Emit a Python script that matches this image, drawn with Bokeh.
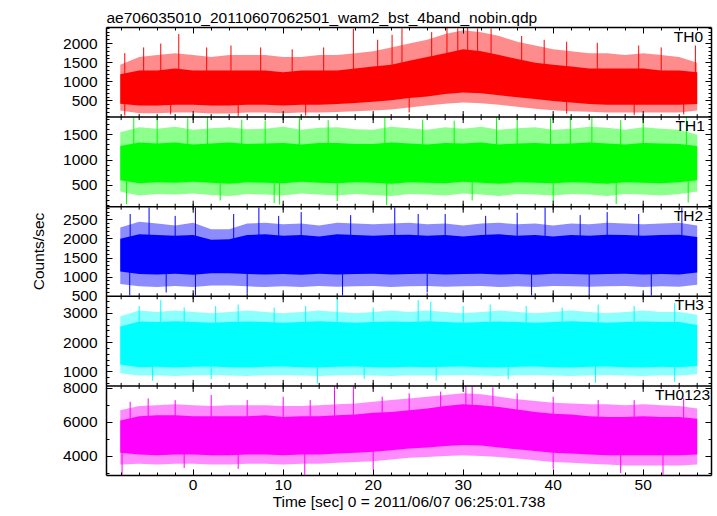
import numpy as np
from bokeh.plotting import figure
from bokeh.models import LinearAxis, SingleIntervalTicker, FixedTicker, Range1d, Label, Span
from bokeh.embed import file_html
from bokeh.resources import INLINE

FONT = "Liberation Sans"
FS = "15.5px"

TITLE = "ae706035010_20110607062501_wam2_bst_4band_nobin.qdp"
XLABEL = "Time [sec] 0 = 2011/06/07 06:25:01.738"
YLABEL = "Counts/sec"

# time grid (sec) for the envelopes
T = [-8.1, -6, -4, -2, 0, 2, 4, 6, 8, 10, 12, 14, 16, 18, 20, 22, 24, 26, 28, 30,
     32, 34, 36, 38, 40, 42, 44, 46, 48, 50, 52, 54, 56]

# TH0 : spike envelope (hi/lo) and dense core (chi/clo)
TH0_hi = [1450, 1650, 1700, 1750, 1700, 1650, 1700, 1700, 1700, 1650, 1650, 1700, 1700, 1750, 1800, 1900, 2000,
          2100, 2250, 2350, 2300, 2200, 2050, 1950, 1850, 1800, 1750, 1750, 1700, 1750, 1700, 1650, 1500]
TH0_chi = [1200, 1300, 1300, 1350, 1300, 1300, 1300, 1300, 1300, 1250, 1300, 1300, 1300, 1350, 1400, 1450, 1550,
           1650, 1750, 1850, 1800, 1700, 1600, 1500, 1450, 1400, 1350, 1350, 1350, 1350, 1300, 1300, 1250]
TH0_clo = [430, 380, 380, 400, 400, 380, 380, 400, 400, 380, 400, 400, 420, 450, 480, 520, 580,
           620, 680, 720, 700, 650, 600, 550, 500, 460, 420, 400, 400, 400, 400, 400, 420]
TH0_lo = [250, 180, 180, 200, 200, 170, 170, 200, 200, 180, 200, 200, 210, 230, 250, 280, 330,
          380, 430, 460, 440, 400, 350, 300, 260, 230, 220, 200, 200, 200, 200, 200, 250]
TH0_up_t = [-7.6, -5.5, -3.6, -1.6, 1.5, 4.2, 7.5, 11, 14.5, 17.8, 20.5, 22.1, 23.2, 26.5, 28.2, 29.4, 30.5,
            31.6, 33.1, 36.5, 39.0, 41.5, 44.9, 49.5, 52.0, 55.8]
TH0_up_v = [1750, 1900, 2000, 2250, 1900, 1950, 1900, 1850, 1900, 2390, 2100, 2230, 2400, 2300, 2420, 2400, 2420,
            2400, 2400, 2200, 2100, 2050, 2020, 1950, 1900, 1950]
TH0_dn_t = [-7.6, -2.5, 5, 12.5, 24.0, 41.5, 49, 54.5]
TH0_dn_v = [120, 150, 110, 120, 200, 170, 130, 150]

# TH1
TH1_hi = [1550, 1650, 1620, 1660, 1600, 1630, 1650, 1610, 1620, 1660, 1600, 1640, 1650, 1610, 1600, 1660, 1630,
          1600, 1650, 1620, 1660, 1600, 1630, 1650, 1600, 1620, 1660, 1640, 1600, 1650, 1620, 1600, 1500]
TH1_chi = [1280, 1350, 1330, 1350, 1310, 1330, 1350, 1320, 1330, 1340, 1310, 1340, 1340, 1320, 1320, 1350, 1330,
           1310, 1340, 1330, 1350, 1310, 1330, 1340, 1320, 1330, 1350, 1330, 1310, 1340, 1330, 1320, 1280]
TH1_clo = [600, 540, 560, 550, 570, 550, 530, 560, 550, 540, 570, 550, 540, 560, 550, 530, 560,
           550, 540, 570, 550, 530, 560, 550, 540, 560, 550, 530, 560, 550, 540, 560, 600]
TH1_lo = [380, 300, 330, 320, 340, 310, 290, 330, 320, 300, 340, 320, 300, 330, 310, 290, 330,
          320, 300, 340, 320, 290, 330, 320, 300, 330, 320, 290, 330, 320, 300, 330, 380]
TH1_up_t = [-6.6, -4.0, -0.6, 1.6, 5.4, 8.0, 11.8, 15.0, 21.3, 25.5, 29.0, 33.7, 36.0, 39.7, 41.9, 44.3, 47.5,
            50.0, 54.8]
TH1_up_v = [1840, 1850, 1830, 1850, 1800, 1780, 1850, 1790, 1840, 1800, 1780, 1850, 1800, 1830, 1850, 1840, 1790,
            1800, 1850]
TH1_dn_t = [-7.4, 3.0, 9.0, 9.6, 16.0, 21.5, 31.0, 40.0, 47.0, 55.0]
TH1_dn_v = [130, 200, 150, 120, 190, 110, 200, 180, 130, 160]

# TH2
TH2_hi = [2300, 2450, 2400, 2350, 2420, 2250, 2250, 2400, 2420, 2380, 2400, 2350, 2420, 2400, 2380, 2400, 2420,
          2380, 2400, 2350, 2400, 2420, 2380, 2400, 2350, 2400, 2380, 2420, 2400, 2380, 2400, 2420, 2350]
TH2_chi = [2000, 2120, 2100, 2080, 2100, 1980, 1990, 2100, 2120, 2080, 2100, 2060, 2120, 2100, 2080, 2100, 2110,
           2080, 2100, 2060, 2100, 2120, 2080, 2100, 2060, 2100, 2080, 2110, 2100, 2080, 2100, 2110, 2050]
TH2_clo = [1150, 1080, 1070, 1090, 1060, 1100, 1100, 1080, 1070, 1080, 1060, 1090, 1070, 1080, 1090, 1070, 1080,
           1090, 1070, 1080, 1090, 1070, 1080, 1060, 1090, 1080, 1070, 1080, 1090, 1070, 1080, 1070, 1120]
TH2_lo = [820, 760, 740, 770, 740, 780, 780, 760, 740, 760, 740, 770, 750, 760, 770, 740, 760,
          770, 750, 760, 770, 740, 760, 740, 770, 760, 750, 760, 770, 740, 760, 750, 800]
TH2_up_t = [-7.0, -4.9, -2.0, 0.25, 4.5, 7.3, 9.5, 12.0, 17.5, 22.4, 25.0, 28.0, 32.5, 36.0, 39.1, 43.0, 46.0,
            49.5, 54.3]
TH2_up_v = [2650, 2820, 2600, 2820, 2650, 2820, 2600, 2700, 2620, 2820, 2650, 2650, 2600, 2680, 2820, 2620, 2700,
            2650, 2820]
TH2_dn_t = [-7.05, -3.0, 0.25, 6.0, 16.6, 26.0, 37.6, 44.0, 50.9]
TH2_dn_v = [520, 600, 520, 580, 520, 600, 520, 580, 520]

# TH3
TH3_hi = [2900, 3100, 3050, 3100, 3050, 3000, 3050, 3100, 3050, 3000, 3050, 3100, 3050, 3000, 3050, 3100, 3050,
          3100, 3050, 3000, 3050, 3100, 3050, 3000, 3050, 3100, 3050, 3000, 3050, 3100, 3050, 3050, 2950]
TH3_chi = [2550, 2720, 2700, 2730, 2700, 2680, 2700, 2720, 2700, 2680, 2700, 2730, 2700, 2680, 2700, 2720, 2700,
           2730, 2700, 2680, 2700, 2720, 2700, 2680, 2700, 2730, 2700, 2680, 2700, 2720, 2700, 2700, 2600]
TH3_clo = [1250, 1160, 1170, 1150, 1170, 1180, 1160, 1150, 1170, 1180, 1160, 1150, 1170, 1180, 1160, 1150, 1170,
           1160, 1170, 1180, 1160, 1150, 1170, 1180, 1160, 1150, 1170, 1180, 1160, 1150, 1170, 1160, 1200]
TH3_lo = [950, 870, 880, 860, 880, 890, 870, 860, 880, 890, 870, 860, 880, 890, 870, 860, 880,
          870, 880, 890, 870, 860, 880, 890, 870, 860, 880, 890, 870, 860, 880, 870, 920]
TH3_up_t = [-6.0, -3.6, -1.0, 2.5, 5.0, 9.0, 12.5, 16.0, 20.0, 25.0, 26.4, 30.0, 33.0, 37.0, 41.0, 45.0, 49.0,
            53.5]
TH3_up_v = [3250, 3450, 3200, 3250, 3300, 3200, 3250, 3500, 3200, 3450, 3400, 3250, 3300, 3250, 3200, 3300, 3250,
            3350]
TH3_dn_t = [-4.5, 2.0, 13.8, 19.0, 27.0, 35.0, 44.7, 53.5]
TH3_dn_v = [700, 750, 600, 760, 700, 740, 620, 650]

# TH0123
TH0123_hi = [6700, 6950, 7000, 7050, 7000, 6950, 7000, 7000, 7000, 6950, 6950, 7000, 7050, 7100, 7200, 7300, 7400,
             7500, 7600, 7700, 7650, 7500, 7350, 7250, 7150, 7100, 7050, 7050, 7000, 7050, 7000, 6950, 6800]
TH0123_chi = [6100, 6350, 6400, 6400, 6350, 6350, 6350, 6350, 6400, 6300, 6350, 6350, 6400, 6450, 6550, 6600, 6700,
              6800, 6950, 7050, 7000, 6900, 6750, 6600, 6500, 6450, 6350, 6300, 6300, 6350, 6300, 6300, 6200]
TH0123_clo = [4200, 4100, 4050, 4100, 4100, 4050, 4050, 4100, 4100, 4050, 4100, 4100, 4150, 4200, 4250, 4350, 4450,
              4500, 4600, 4650, 4620, 4500, 4400, 4300, 4200, 4150, 4100, 4050, 4050, 4050, 4050, 4050, 4100]
TH0123_lo = [3500, 3550, 3500, 3550, 3550, 3500, 3500, 3550, 3550, 3500, 3550, 3550, 3600, 3650, 3700, 3800, 3900,
             3950, 4000, 4050, 4000, 3950, 3850, 3750, 3650, 3600, 3550, 3500, 3450, 3450, 3450, 3450, 3500]
TH0123_up_t = [-7.0, -5.0, -2.0, 2.0, 6.0, 10.0, 13.0, 15.7, 17.8, 21.0, 24.0, 27.5, 30.3, 31.0, 33.3, 36.0, 40.0,
               45.0, 49.0, 54.5]
TH0123_up_v = [7200, 7400, 7300, 7600, 7300, 7500, 7300, 8100, 8100, 7500, 7700, 7800, 8130, 8100, 8050, 7700, 7500,
               7300, 7300, 7400]
TH0123_dn_t = [-7.9, -1.0, 5.0, 12.4, 20.0, 40.0, 47.5, 52.2]
TH0123_dn_v = [2900, 3300, 3250, 2900, 3200, 3250, 3000, 2900]

# axis limits and ticks of each panel
TH0_LIM, TH1_LIM, TH2_LIM, TH3_LIM, TH0123_LIM = (79, 2421), (78, 1850), (500, 2840), (518, 3583), (2855, 8137)
TH0_TICKS, TH0_MINOR = [500, 1000, 1500, 2000], list(range(100, 2500, 100))
TH1_TICKS, TH1_MINOR = [500, 1000, 1500], list(range(100, 1900, 100))
TH2_TICKS, TH2_MINOR = [500, 1000, 1500, 2000, 2500], list(range(500, 2900, 100))
TH3_TICKS, TH3_MINOR = [1000, 2000, 3000], list(range(600, 3600, 200))
TH0123_TICKS, TH0123_MINOR = [4000, 6000, 8000], list(range(3000, 9000, 1000))
X_MAJOR = [0, 10, 20, 30, 40, 50]
X_MINOR = list(range(-8, 58, 2))
X_RANGE = (-9.63, 57.59)

PANELS = [
    ("TH0", "#ff0000", TH0_hi, TH0_chi, TH0_clo, TH0_lo, TH0_up_t, TH0_up_v, TH0_dn_t, TH0_dn_v,
     TH0_LIM, TH0_TICKS, TH0_MINOR, 53.4),
    ("TH1", "#00ff00", TH1_hi, TH1_chi, TH1_clo, TH1_lo, TH1_up_t, TH1_up_v, TH1_dn_t, TH1_dn_v,
     TH1_LIM, TH1_TICKS, TH1_MINOR, 53.6),
    ("TH2", "#0000ff", TH2_hi, TH2_chi, TH2_clo, TH2_lo, TH2_up_t, TH2_up_v, TH2_dn_t, TH2_dn_v,
     TH2_LIM, TH2_TICKS, TH2_MINOR, 53.4),
    ("TH3", "#00ffff", TH3_hi, TH3_chi, TH3_clo, TH3_lo, TH3_up_t, TH3_up_v, TH3_dn_t, TH3_dn_v,
     TH3_LIM, TH3_TICKS, TH3_MINOR, 53.5),
    ("TH0123", "#ff00ff", TH0123_hi, TH0123_chi, TH0123_clo, TH0123_lo, TH0123_up_t, TH0123_up_v,
     TH0123_dn_t, TH0123_dn_v, TH0123_LIM, TH0123_TICKS, TH0123_MINOR, 51.3),
]
N = len(PANELS)

p = figure(frame_width=605, frame_height=448, x_range=Range1d(*X_RANGE), y_range=Range1d(0, N),
           output_backend="svg", toolbar_location=None, x_axis_location=None, y_axis_location=None,
           min_border_left=106, min_border_right=5, min_border_top=27, min_border_bottom=40,
           background_fill_color="white", border_fill_color="white", outline_line_color=None,
           title=TITLE)
p.grid.visible = False
p.title.text_font = FONT
p.title.text_font_size = FS
p.title.text_font_style = "normal"
p.title.text_color = "black"
p.title.align = "left"
p.title.standoff = 3


def style_axis(ax, labels):
    ax.axis_line_color = "black"
    ax.axis_line_width = 1.5
    ax.major_tick_in = 6
    ax.major_tick_out = 0
    ax.minor_tick_in = 3
    ax.minor_tick_out = 0
    ax.major_tick_line_color = "black"
    ax.minor_tick_line_color = "black"
    if labels:
        ax.major_label_text_font = FONT
        ax.major_label_text_font_size = FS
        ax.major_label_text_color = "black"
        ax.axis_label_text_font = FONT
        ax.axis_label_text_font_size = FS
        ax.axis_label_text_font_style = "normal"
        ax.axis_label_text_color = "black"
    else:
        ax.major_label_text_color = None
        ax.major_label_standoff = 0


# y ticks of all panels on one axis of the stacked frame
major_pos, minor_pos, overrides = [], [], {}
for k, panel in enumerate(PANELS):
    name, color, hi, chi, clo, lo, up_t, up_v, dn_t, dn_v, lim, ticks, minor, name_x = panel
    a, b = lim
    s = b - a
    rname = "p%d" % k
    p.extra_y_ranges[rname] = Range1d(a - (N - 1 - k) * s, b + k * s)
    for v in ticks:
        if a <= v <= b:
            pos = float((N - 1 - k) + (v - a) / s)
            major_pos.append(pos)
            overrides[pos] = str(v)
    for v in minor:
        if a <= v <= b:
            minor_pos.append(float((N - 1 - k) + (v - a) / s))

    # light fringe of spikes, dense core, individual spikes
    p.varea(x=T, y1=lo, y2=hi, fill_color=color, fill_alpha=0.45, y_range_name=rname)
    p.varea(x=T, y1=clo, y2=chi, fill_color=color, fill_alpha=1.0, y_range_name=rname)
    mid = [(u + w) / 2 for u, w in zip(chi, clo)]
    p.segment(x0=up_t, y0=np.interp(up_t, T, mid), x1=up_t, y1=up_v, line_color=color, line_width=1,
              y_range_name=rname)
    p.segment(x0=dn_t, y0=np.interp(dn_t, T, mid), x1=dn_t, y1=dn_v, line_color=color, line_width=1,
              y_range_name=rname)
    p.add_layout(Label(x=name_x, y=b, y_range_name=rname, text=name, text_baseline="top", text_align="left",
                       text_font=FONT, text_font_size=FS, text_color="black"))

yt = FixedTicker(ticks=sorted(major_pos), minor_ticks=sorted(minor_pos))
left = LinearAxis(ticker=yt, major_label_overrides=overrides)
style_axis(left, True)
left.major_label_standoff = 9
left.axis_label = YLABEL
left.axis_label_standoff = 13
p.add_layout(left, "left")

right = LinearAxis(ticker=yt)
style_axis(right, False)
p.add_layout(right, "right")

xt = SingleIntervalTicker(interval=10, num_minor_ticks=5)
above = LinearAxis(ticker=xt)
style_axis(above, False)
p.add_layout(above, "above")

below = LinearAxis(ticker=xt)
style_axis(below, True)
below.major_label_standoff = 4
below.axis_label = XLABEL
below.axis_label_standoff = 0
p.add_layout(below, "below")

# panel boundaries with the inward ticks of both neighbouring panels
for j in range(1, N):
    p.add_layout(Span(location=j, dimension="width", line_color="black", line_width=1.5))
    p.scatter(x=X_MINOR, y=[j] * len(X_MINOR), marker="dash", angle=np.pi / 2, size=6,
              line_color="black", line_width=1)
    p.scatter(x=X_MAJOR, y=[j] * len(X_MAJOR), marker="dash", angle=np.pi / 2, size=12,
              line_color="black", line_width=1)

open("out.html", "w").write(file_html(p, INLINE))
